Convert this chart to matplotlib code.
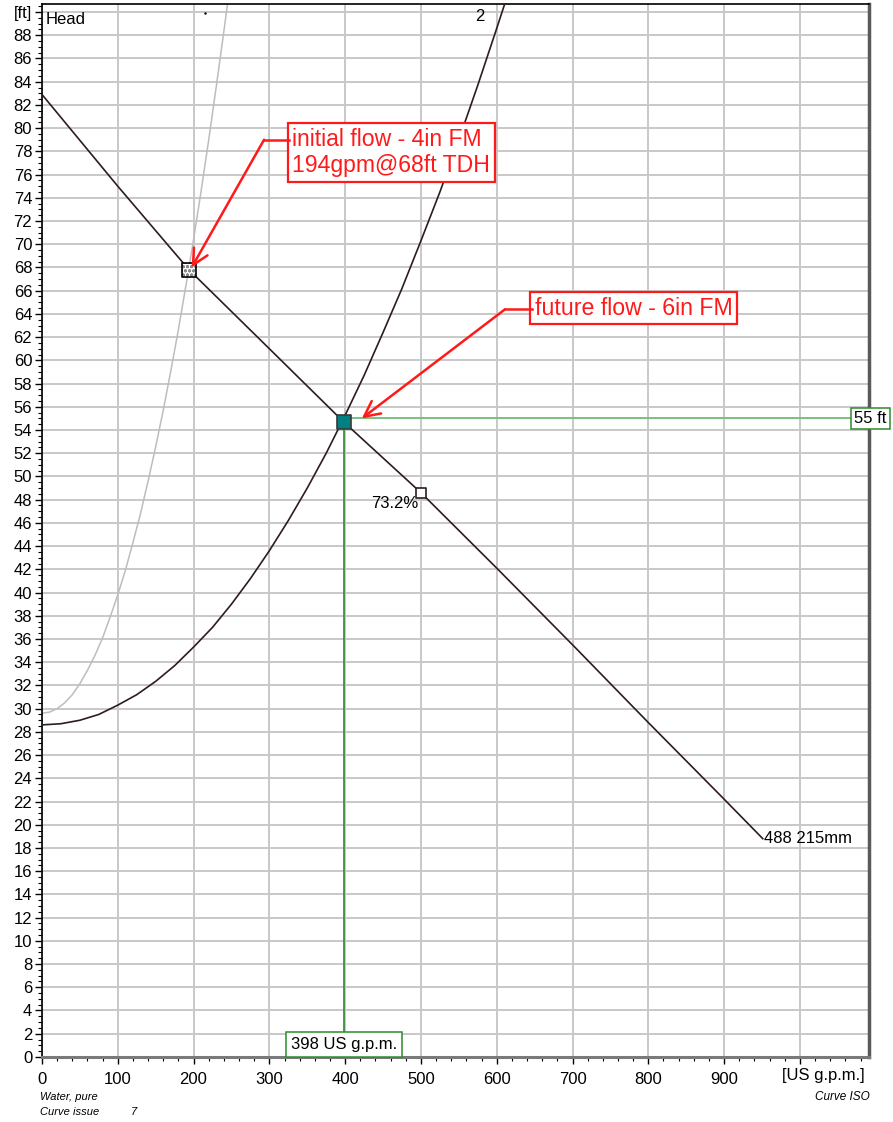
import matplotlib
matplotlib.use("Agg")
import matplotlib.pyplot as plt
from matplotlib.ticker import MultipleLocator, FixedLocator

plt.rcParams['font.family'] = ['Liberation Sans', 'DejaVu Sans']

# Pump curve, impeller 215 mm
pump_q = [0, 100, 194, 300, 398, 500, 600, 700, 800, 900, 951]
pump_h = [82.9, 75.0, 67.8, 61.0, 54.7, 48.6, 42.1, 35.5, 28.8, 22.2, 18.8]

# System curve 2 (future, 6in force main)
sys2_q = [0, 25, 50, 75, 100, 125, 150, 175, 200, 225, 250, 275, 300, 325, 350, 375,
          398, 425, 450, 475, 500, 525, 550, 575, 600, 611]
sys2_h = [28.6, 28.7, 29.0, 29.5, 30.3, 31.2, 32.35, 33.7, 35.3, 37.0, 39.0, 41.2,
          43.6, 46.2, 49.0, 52.0, 55.0, 58.7, 62.4, 66.2, 70.3, 74.5, 79.0, 83.7, 88.6, 90.8]

# System curve 1 (initial, 4in force main)
sys1_q = [0, 10, 20, 30, 40, 50, 60, 70, 80, 90, 100, 110, 120, 130, 140, 150, 160,
          170, 180, 194, 200, 210, 220, 230, 240, 245]
sys1_h = [29.6, 29.7, 30.0, 30.5, 31.2, 32.15, 33.3, 34.6, 36.1, 37.9, 39.8, 41.9,
          44.3, 46.8, 49.6, 52.55, 55.7, 59.1, 62.65, 68.0, 70.4, 74.6, 79.0, 83.6, 88.35, 90.8]

# Duty points
init_q, init_h = 194, 67.8
duty_q, duty_h = 398, 54.7
duty_label_h = 55
eff_q, eff_h = 500, 48.6
eff_label = "73.2%"

x_ticks = [0, 100, 200, 300, 400, 500, 600, 700, 800, 900, 1000]
x_labels = ['0', '100', '200', '300', '400', '500', '600', '700', '800', '900', '']
x_unit = '[US g.p.m.]'
y_ticks = list(range(0, 92, 2))
y_labels = [str(v) for v in y_ticks[:-1]] + ['[ft]']

fig = plt.figure(figsize=(8.93, 11.22), dpi=100)
ax = fig.add_axes([0.047, 0.058, 0.926, 0.9385])
ax.set_xlim(0, 1091)
ax.set_ylim(0, 90.7)

ax.xaxis.set_major_locator(FixedLocator(x_ticks))
ax.set_xticklabels(x_labels)
ax.xaxis.set_minor_locator(MultipleLocator(20))
ax.yaxis.set_major_locator(FixedLocator(y_ticks))
ax.set_yticklabels(y_labels)
ax.yaxis.set_minor_locator(MultipleLocator(0.5))

ax.grid(True, which='major', color='#c8c8c8', linewidth=1.4, zorder=0)
ax.tick_params(axis='both', which='major', labelsize=12, length=5, width=1, color='black', pad=2)
ax.tick_params(axis='both', which='minor', length=3, width=0.8, color='black')
ax.tick_params(axis='x', pad=6)

# Unit label sits at the 1000 tick, shifted right of it
ax.annotate(x_unit, xy=(1000, 0), xycoords=('data', 'axes fraction'),
            xytext=(-18, -11), textcoords='offset pixels',
            fontsize=12, ha='left', va='top', annotation_clip=False)

for side in ['left', 'top']:
    ax.spines[side].set_color('black')
    ax.spines[side].set_linewidth(1.2)
ax.spines['bottom'].set_color('#7a7a7a')
ax.spines['bottom'].set_linewidth(2.2)
ax.spines['right'].set_color('#5a5a5a')
ax.spines['right'].set_linewidth(2.5)

curve_color = '#2e1c1c'
ax.plot(sys1_q, sys1_h, color='#bdbdbd', linewidth=1.1, zorder=2)
ax.plot(sys2_q, sys2_h, color=curve_color, linewidth=1.2, zorder=3)
ax.plot(pump_q, pump_h, color=curve_color, linewidth=1.2, zorder=3)

# Duty point guide lines
ax.plot([duty_q, 1091], [duty_label_h, duty_label_h], color='#7cc07c', linewidth=1.4, zorder=2)
ax.plot([duty_q, duty_q], [0, duty_h], color='#2e8b2e', linewidth=1.2, zorder=2)

# Markers
ax.scatter([init_q], [init_h], marker='s', s=105, facecolor='white', edgecolor='#8a8a8a',
           hatch='oooo', linewidth=0, zorder=5)
ax.scatter([init_q], [init_h], marker='s', s=105, facecolor='none', edgecolor='black',
           linewidth=1.2, zorder=6)
ax.scatter([duty_q], [duty_h], marker='s', s=110, facecolor='#008080', edgecolor='#3a3a3a',
           linewidth=1.2, zorder=6)
ax.scatter([eff_q], [eff_h], marker='s', s=60, facecolor='white', edgecolor=curve_color,
           linewidth=1.2, zorder=6)
ax.text(eff_q - 3, eff_h - 0.3, eff_label, fontsize=12, ha='right', va='top', zorder=7)
ax.plot([215], [89.9], marker='.', markersize=1.5, color='black')

# Curve labels
ax.text(5, 89.4, 'Head', fontsize=12, ha='left', va='center')
ax.text(578, 89.6, '2', fontsize=12, ha='center', va='center')
ax.text(pump_q[-1] + 1, pump_h[-1], '488 215mm', fontsize=12, ha='left', va='center')

# Value boxes
ax.text(duty_q, 1.05, f'{duty_q} US g.p.m.', fontsize=12, ha='center', va='center', zorder=8,
        bbox=dict(boxstyle='square,pad=0.3', facecolor='white', edgecolor='#2e8b2e', linewidth=1.1))
ax.text(1072, duty_label_h, f'{duty_label_h} ft', fontsize=12, ha='left', va='center', zorder=8,
        clip_on=False,
        bbox=dict(boxstyle='square,pad=0.2', facecolor='white', edgecolor='#2e8b2e', linewidth=1.1))

# Red annotations
red = '#ff1a1a'
ax.text(330.5, 77.9, 'initial flow - 4in FM\n194gpm@68ft TDH', color=red, fontsize=16.6,
        ha='left', va='center', linespacing=1.2, zorder=9,
        bbox=dict(boxstyle='square,pad=0.2', facecolor='white', edgecolor=red, linewidth=1.6))
ax.plot([293, 326], [79.0, 79.0], color=red, linewidth=1.8, zorder=9)
ax.annotate('', xy=(197.5, 68.0), xytext=(293, 79.0),
            arrowprops=dict(arrowstyle='->', color=red, lw=1.8, mutation_scale=28,
                            shrinkA=0, shrinkB=0), zorder=9)

ax.text(650.5, 64.5, 'future flow - 6in FM', color=red, fontsize=16.7,
        ha='left', va='center', zorder=9,
        bbox=dict(boxstyle='square,pad=0.2', facecolor='white', edgecolor=red, linewidth=1.6))
ax.plot([611, 646], [64.4, 64.4], color=red, linewidth=1.8, zorder=9)
ax.annotate('', xy=(422, 55.0), xytext=(611, 64.4),
            arrowprops=dict(arrowstyle='->', color=red, lw=1.8, mutation_scale=28,
                            shrinkA=0, shrinkB=0), zorder=9)

# Footer notes
fig.text(0.045, 0.0223, 'Water, pure', fontsize=8, style='italic', ha='left', va='center')
fig.text(0.045, 0.0089, 'Curve issue', fontsize=8, style='italic', ha='left', va='center')
fig.text(0.146, 0.0089, '7', fontsize=8, style='italic', ha='left', va='center')
fig.text(0.974, 0.0223, 'Curve ISO', fontsize=8.5, style='italic', ha='right', va='center')

fig.savefig('out.png', dpi=100)
